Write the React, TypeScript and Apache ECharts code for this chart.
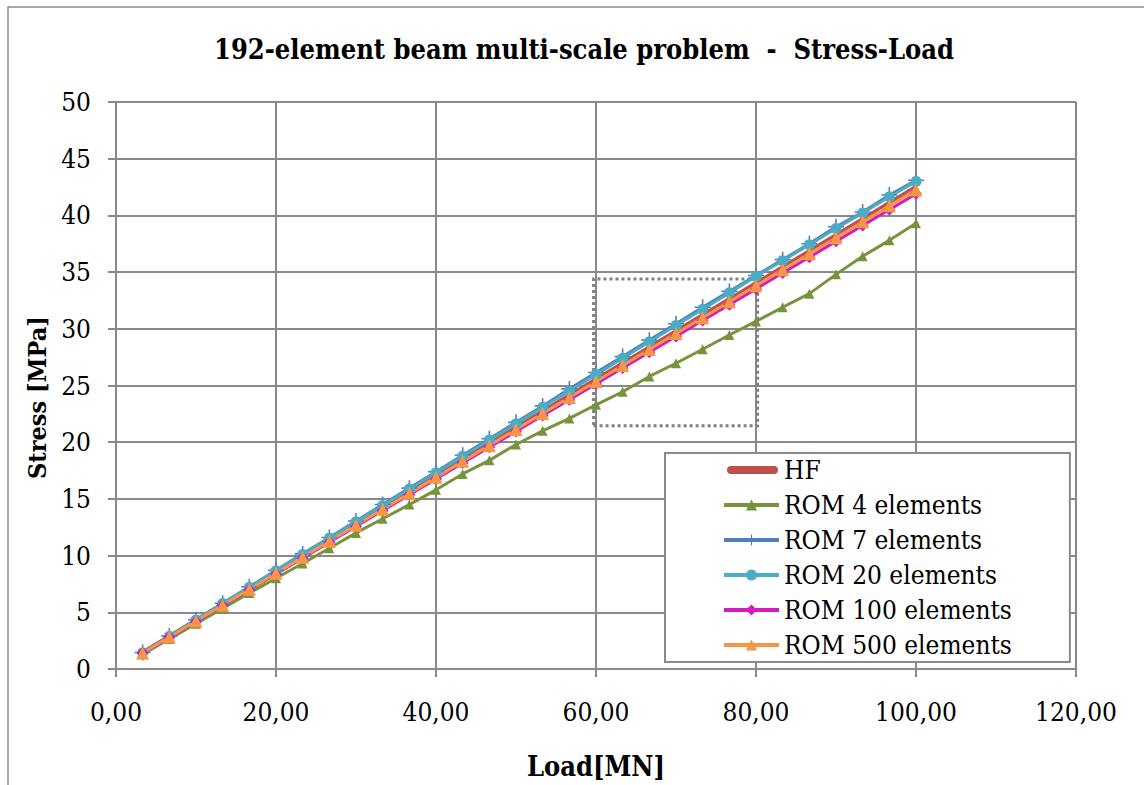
import React, { useEffect, useRef } from "react";
import * as echarts from "echarts";

const loads = [3.33, 6.67, 10, 13.33, 16.67, 20, 23.33, 26.67, 30, 33.33, 36.67, 40, 43.33, 46.67, 50, 53.33, 56.67, 60, 63.33, 66.67, 70, 73.33, 76.67, 80, 83.33, 86.67, 90, 93.33, 96.67, 100];

const hf = [1.42, 2.84, 4.26, 5.68, 7.09, 8.51, 9.93, 11.35, 12.76, 14.18, 15.6, 17.01, 18.43, 19.84, 21.26, 22.67, 24.08, 25.5, 26.91, 28.32, 29.74, 31.15, 32.56, 33.98, 35.39, 36.8, 38.22, 39.63, 41.05, 42.47];
const rom4 = [1.3, 2.65, 4.0, 5.35, 6.7, 8.0, 9.3, 10.65, 12.0, 13.25, 14.5, 15.8, 17.2, 18.4, 19.8, 21.0, 22.1, 23.3, 24.45, 25.8, 26.96, 28.2, 29.45, 30.65, 31.9, 33.1, 34.8, 36.4, 37.8, 39.3];
const rom7 = [1.45, 2.9, 4.35, 5.8, 7.25, 8.7, 10.15, 11.6, 13.05, 14.5, 15.95, 17.4, 18.85, 20.3, 21.75, 23.2, 24.7, 26.15, 27.55, 29.0, 30.45, 31.9, 33.3, 34.7, 36.1, 37.5, 39.0, 40.3, 41.8, 43.1];
const rom20 = [1.44, 2.88, 4.33, 5.77, 7.21, 8.66, 10.1, 11.54, 12.98, 14.42, 15.87, 17.31, 18.75, 20.19, 21.63, 23.08, 24.52, 25.96, 27.4, 28.85, 30.29, 31.73, 33.17, 34.62, 36.0, 37.42, 38.85, 40.22, 41.65, 43.0];
const rom100 = [1.4, 2.79, 4.19, 5.59, 6.98, 8.38, 9.78, 11.17, 12.57, 13.97, 15.36, 16.76, 18.16, 19.55, 20.95, 22.35, 23.74, 25.14, 26.54, 27.93, 29.33, 30.73, 32.12, 33.52, 34.92, 36.31, 37.71, 39.11, 40.5, 41.9];
const rom500 = [1.41, 2.82, 4.23, 5.63, 7.04, 8.45, 9.86, 11.27, 12.68, 14.08, 15.49, 16.9, 18.31, 19.72, 21.13, 22.53, 23.94, 25.35, 26.76, 28.17, 29.58, 30.98, 32.39, 33.8, 35.21, 36.62, 38.03, 39.43, 40.84, 42.25];

const seriesNames = ["HF", "ROM 4 elements", "ROM 7 elements", "ROM 20 elements", "ROM 100 elements", "ROM 500 elements"];
const zoomBox = [[59.7, 21.45], [80.2, 34.4]];

const GRID = "#898989";
const FONT = "DejaVu Serif Condensed, DejaVu Serif";

const PLUS = "path://M9,0h2v9h9v2h-9v9h-2v-9h-9v-2h9z";
const HF_ICON = "path://M0,0h0.01v0.01h-0.01z M6,3h43a4,4 0 0 1 0,8h-43a4,4 0 0 1 0,-8z M0,13.99h0.01v0.01h-0.01z";

const pair = (ys: number[]) => loads.map((x, i) => [x, ys[i]]);

export default function App() {
  const ref = useRef<HTMLDivElement>(null);
  useEffect(() => {
    const chart = echarts.init(ref.current!, undefined, { renderer: "svg" });
    const mk = (name: string, data: number[], color: string, symbol: string, size: number, width: number, extra: any = {}) => ({
      name,
      type: "line",
      data: pair(data),
      symbol,
      symbolSize: size,
      showSymbol: symbol !== "none",
      lineStyle: { color, width },
      itemStyle: { color, borderWidth: 0 },
      ...extra,
    });
    chart.setOption({
      animation: false,
      backgroundColor: "#ffffff",
      title: {
        text: "192-element beam multi-scale problem  -  Stress-Load",
        left: 579,
        textAlign: "center",
        top: 31,
        textStyle: { fontFamily: FONT, fontSize: 27, fontWeight: "bold", color: "#000" },
      },
      graphic: [
        {
          type: "rect",
          shape: { x: 8, y: 7, width: 1160, height: 820 },
          style: { fill: "none", stroke: "#8c8c8c", lineWidth: 1.5 },
          silent: true,
        },
      ],
      grid: { left: 116, top: 102, width: 960, height: 567 },
      legend: {
        orient: "vertical",
        left: 665,
        top: 453,
        padding: [4, 58, 4, 57],
        itemGap: 9,
        itemWidth: 55,
        itemHeight: 14,
        backgroundColor: "#ffffff",
        borderColor: GRID,
        borderWidth: 2,
        lineStyle: { width: 4 },
        textStyle: { fontFamily: FONT, fontSize: 26, color: "#000" },
        data: [
          { name: seriesNames[0], icon: HF_ICON, itemStyle: { color: "#C0504D" } },
          seriesNames[1],
          seriesNames[2],
          seriesNames[3],
          seriesNames[4],
          seriesNames[5],
        ],
      },
      xAxis: {
        type: "value",
        min: 0,
        max: 120,
        interval: 20,
        name: "Load[MN]",
        nameLocation: "middle",
        nameGap: 84,
        nameTextStyle: { fontFamily: FONT, fontSize: 27, fontWeight: "bold", color: "#000" },
        axisLine: { lineStyle: { color: GRID, width: 2 } },
        axisTick: { show: true, length: 8, lineStyle: { color: GRID, width: 2 } },
        splitLine: { show: true, lineStyle: { color: GRID, width: 2 } },
        axisLabel: {
          fontFamily: FONT,
          fontSize: 26,
          color: "#000",
          margin: 30,
          formatter: (v: number) => v.toFixed(2).replace(".", ","),
        },
      },
      yAxis: {
        type: "value",
        min: 0,
        max: 50,
        interval: 5,
        name: "Stress [MPa]",
        nameLocation: "middle",
        nameGap: 66,
        nameTextStyle: { fontFamily: FONT, fontSize: 25, fontWeight: "bold", color: "#000", padding: [0, 24, 0, 0] },
        axisLine: { show: true, lineStyle: { color: GRID, width: 2 } },
        axisTick: { show: true, length: 8, lineStyle: { color: GRID, width: 2 } },
        splitLine: { show: true, lineStyle: { color: GRID, width: 2 } },
        axisLabel: { fontFamily: FONT, fontSize: 26, color: "#000", margin: 25 },
      },
      series: [
        mk(seriesNames[0], hf, "#C0504D", "none", 0, 5),
        mk(seriesNames[1], rom4, "#77933C", "triangle", 10, 3),
        mk(seriesNames[2], rom7, "#4F81BD", PLUS, 16, 3),
        mk(seriesNames[3], rom20, "#4BACC6", "circle", 11, 3),
        mk(seriesNames[4], rom100, "#D41BBE", "diamond", 12, 3),
        mk(seriesNames[5], rom500, "#F79646", "triangle", 13, 3, {
          markArea: {
            silent: true,
            itemStyle: { color: "rgba(0,0,0,0)", borderColor: "#808080", borderWidth: 3, borderType: "dotted" },
            data: [[{ coord: zoomBox[0] }, { coord: zoomBox[1] }]],
          },
        }),
      ],
    });
    return () => chart.dispose();
  }, []);
  return <div ref={ref} style={{ position: "fixed", left: 0, top: 0, width: 1144, height: 785 }} />;
}
